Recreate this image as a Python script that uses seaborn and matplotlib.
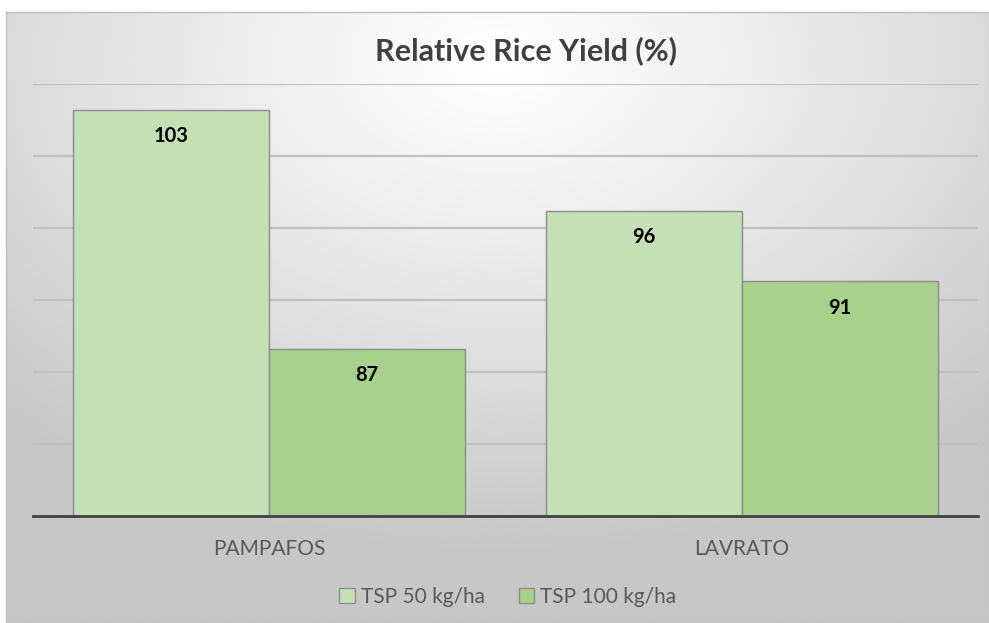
import numpy as np
import pandas as pd
import matplotlib.pyplot as plt
import seaborn as sns

# data
varieties = ["PAMPAFOS", "LAVRATO"]
series = ["TSP 50 kg/ha", "TSP 100 kg/ha"]
tsp_50 = [103.2, 96.2]
tsp_100 = [86.6, 91.3]

df = pd.DataFrame({
    "variety": varieties * 2,
    "treatment": [series[0]] * 2 + [series[1]] * 2,
    "yield": tsp_50 + tsp_100,
})

sns.set_style("white")
plt.rcParams["font.family"] = ["Lato", "DejaVu Sans"]

fig = plt.figure(figsize=(9.89, 6.23), dpi=100)
fig.patch.set_facecolor("white")

# grey gradient background of the chart box
bg = fig.add_axes([6 / 989, 0, 1 - 6 / 989, 1 - 12 / 623])
yy, xx = np.mgrid[0:1:300j, 0:1:500j]
d = np.sqrt(((xx - 0.5) * 1.1) ** 2 + ((yy - 0.08) * 1.0) ** 2)
shade = np.clip(1.0 - 0.28 * d ** 1.1, 0.78, 1.0)
bg.imshow(shade, cmap="gray", vmin=0, vmax=1, aspect="auto", extent=[0, 1, 1, 0])
bg.set_xticks([])
bg.set_yticks([])
for s in bg.spines.values():
    s.set_color("#bdbdbd")
    s.set_linewidth(1)
bg.set_zorder(0)

ax = fig.add_axes([33 / 989, 1 - 516 / 623, 945 / 989, (516 - 84) / 623])
ax.set_zorder(1)
ax.patch.set_alpha(0)

sns.barplot(data=df, x="variety", y="yield", hue="treatment",
            palette=["#C5E0B4", "#A9D18E"], saturation=1, width=0.83, gap=0,
            edgecolor="#8c8c8c", linewidth=1.0, ax=ax, legend=True, zorder=3)

ax.set_ylim(75, 105)
ax.set_xlim(-0.5, 1.5)
ax.set_yticks(np.arange(80, 106, 5))
ax.yaxis.grid(True, color="#c0c0c0", linewidth=1.6, zorder=0)
ax.set_axisbelow(True)
ax.tick_params(axis="y", left=False, labelleft=False)
ax.tick_params(axis="x", bottom=False, pad=13, labelsize=15, labelcolor="#595959")
ax.set_xlabel("")
ax.set_ylabel("")
for side in ["top", "right", "left"]:
    ax.spines[side].set_visible(False)
ax.spines["bottom"].set_color("#404040")
ax.spines["bottom"].set_linewidth(2)
ax.spines["bottom"].set_zorder(4)

for cont in ax.containers:
    for bar in cont:
        h = bar.get_height()
        ax.annotate(f"{h:.0f}", (bar.get_x() + bar.get_width() / 2, h),
                    xytext=(0, -19), textcoords="offset points",
                    ha="center", va="center", fontsize=14.5, fontweight="bold",
                    color="#000000", zorder=5)

fig.suptitle("Relative Rice Yield (%)", x=0.532, y=1 - 51 / 623, va="center",
             fontsize=22, fontweight="bold", color="#404040")

handles, labels = ax.get_legend_handles_labels()
ax.get_legend().remove()
leg = fig.legend(handles, labels, loc="center", bbox_to_anchor=(508 / 989, 1 - 597 / 623),
                 ncol=2, frameon=False, fontsize=15, handlelength=0.75, handleheight=0.75,
                 handletextpad=0.3, columnspacing=1.6, labelcolor="#595959")

fig.savefig("out.png", dpi=100)
